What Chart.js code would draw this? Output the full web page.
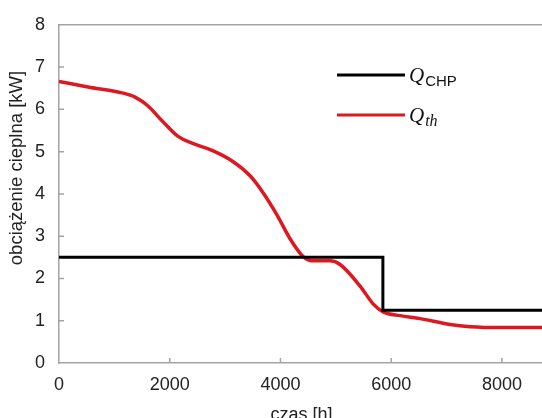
<!DOCTYPE html>
<html>
<head>
<meta charset="utf-8">
<script src="https://cdn.jsdelivr.net/npm/chart.js@4.4.1/dist/chart.umd.min.js"></script>
<style>
  html, body { margin: 0; padding: 0; background: #fff; overflow: hidden; }
  #wrap { width: 542px; height: 418px; overflow: hidden; }
</style>
</head>
<body>
<div id="wrap"><canvas id="wykres" width="544" height="426"></canvas></div>
<script>
// dane
var hours = [0, 524, 1138, 1373, 1608, 1861, 2150, 2403, 2764, 3126, 3451, 3686, 3939, 4173, 4408, 4570, 4770, 4896, 5077, 5438, 5673, 5854, 6161, 6522, 7064, 7425, 8022, 8760];
var qth = [6.66, 6.53, 6.39, 6.29, 6.08, 5.73, 5.36, 5.20, 5.03, 4.78, 4.43, 4.03, 3.50, 2.94, 2.52, 2.42, 2.42, 2.42, 2.33, 1.82, 1.40, 1.21, 1.12, 1.05, 0.91, 0.86, 0.84, 0.84];
var chpHours = [0, 5850, 5850, 8760];
var chpLoad = [2.5, 2.5, 1.25, 1.25];
var xTicks = [0, 2000, 4000, 6000, 8000];
var yTicks = [0, 1, 2, 3, 4, 5, 6, 7, 8];
var legendMain = ['Q', 'Q'];
var legendSub = ['CHP', 'th'];

var sans = '"Liberation Sans", Arial, sans-serif';
var serif = '"Liberation Serif", "Times New Roman", serif';
var axisColor = '#a3a3a3';

function pts(xs, ys) {
  var out = [];
  for (var i = 0; i < xs.length; i++) out.push({x: xs[i], y: ys[i]});
  return out;
}

// ramka, kreski podziałki do środka, legenda i tytuł osi Y
var dodatki = {
  id: 'dodatki',
  afterDraw: function(chart) {
    var ctx = chart.ctx, a = chart.chartArea;
    var sx = chart.scales.x, sy = chart.scales.y;
    ctx.save();
    ctx.strokeStyle = axisColor;
    ctx.lineWidth = 1.5;
    ctx.beginPath();
    ctx.moveTo(a.left, a.top);
    ctx.lineTo(a.right, a.top);
    xTicks.forEach(function(v) {
      if (v === 0) return;
      var px = sx.getPixelForValue(v);
      ctx.moveTo(px, a.bottom);
      ctx.lineTo(px, a.bottom - 5);
    });
    yTicks.forEach(function(v) {
      if (v === 0 || v === 8) return;
      var py = sy.getPixelForValue(v);
      ctx.moveTo(a.left, py);
      ctx.lineTo(a.left + 5, py);
    });
    ctx.stroke();

    // legenda
    var ds = chart.data.datasets;
    var ly = [75, 115];
    for (var i = 0; i < ds.length; i++) {
      ctx.strokeStyle = ds[i].borderColor;
      ctx.lineWidth = 3;
      ctx.beginPath();
      ctx.moveTo(337, ly[i]);
      ctx.lineTo(405, ly[i]);
      ctx.stroke();
      ctx.fillStyle = '#111';
      ctx.textBaseline = 'alphabetic';
      ctx.textAlign = 'left';
      ctx.font = 'italic 21px ' + serif;
      ctx.fillText(legendMain[i], 409, ly[i] + 7);
      var w = ctx.measureText(legendMain[i]).width;
      if (i === 0) ctx.font = '15px ' + sans;
      else ctx.font = 'italic 16px ' + serif;
      ctx.fillText(legendSub[i], 409 + w + 1, ly[i] + 11);
    }

    // tytuł osi Y
    ctx.translate(17, 168);
    ctx.rotate(-Math.PI / 2);
    ctx.textAlign = 'center';
    ctx.textBaseline = 'middle';
    ctx.fillStyle = '#222';
    ctx.font = '18.5px ' + sans;
    ctx.fillText('obciążenie cieplna [kW]', 0, 0);
    ctx.restore();
  }
};

var config = {
  type: 'line',
  data: {
    datasets: [{
      label: 'Q_CHP',
      data: pts(chpHours, chpLoad),
      borderColor: '#000000',
      borderWidth: 3,
      pointRadius: 0,
      tension: 0,
      fill: false
    }, {
      label: 'Q_th',
      data: pts(hours, qth),
      borderColor: '#dc1820',
      borderWidth: 3.5,
      pointRadius: 0,
      cubicInterpolationMode: 'monotone',
      fill: false
    }]
  },
  options: {
    responsive: false,
    animation: false,
    layout: { padding: { left: 0, right: 0, top: 18, bottom: 0 } },
    plugins: { legend: { display: false }, tooltip: { enabled: false } },
    scales: {
      x: {
        type: 'linear',
        min: 0,
        max: 8760,
        afterBuildTicks: function(s) { s.ticks = xTicks.map(function(v) { return {value: v}; }); },
        afterFit: function(s) { s.height = 63; },
        grid: { display: false, drawTicks: false },
        border: { display: true, color: axisColor, width: 1.5 },
        ticks: {
          padding: 11,
          color: '#222',
          font: { family: sans, size: 18 },
          callback: function(v) { return String(v); }
        },
        title: {
          display: true,
          text: 'czas [h]',
          color: '#222',
          font: { family: sans, size: 18 },
          padding: { top: 0, bottom: 0 }
        }
      },
      y: {
        min: 0,
        max: 8,
        afterBuildTicks: function(s) { s.ticks = yTicks.map(function(v) { return {value: v}; }); },
        afterFit: function(s) { s.width = 59; },
        grid: { display: false, drawTicks: false },
        border: { display: true, color: axisColor, width: 1.5 },
        ticks: {
          padding: 14,
          color: '#222',
          font: { family: sans, size: 18 },
          callback: function(v) { return String(v); }
        }
      }
    }
  },
  plugins: [dodatki]
};

var wykres = new Chart(document.getElementById('wykres'), config);
</script>
</body>
</html>
